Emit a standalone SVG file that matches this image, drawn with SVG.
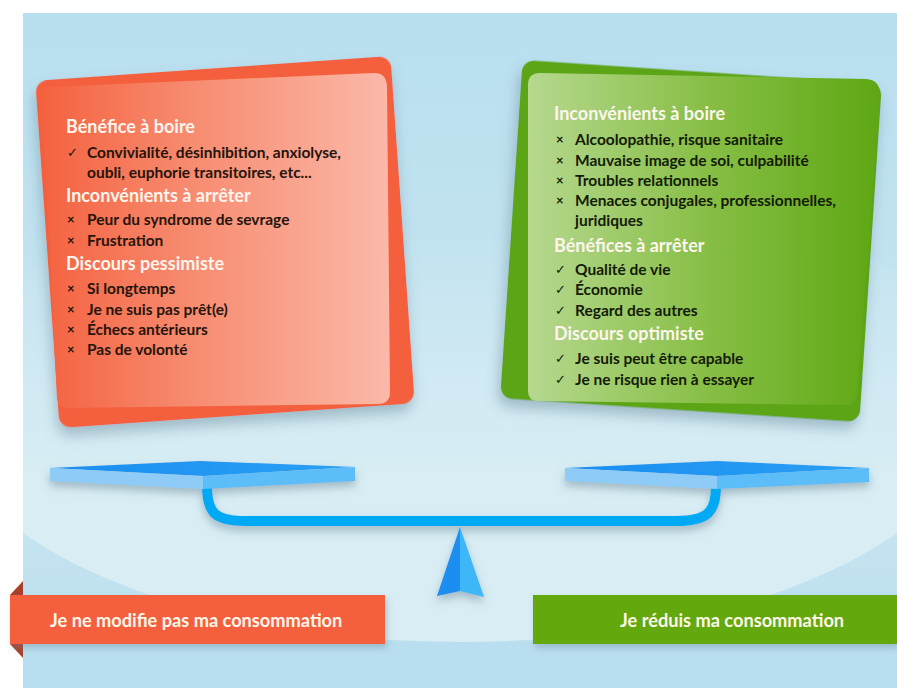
<svg xmlns="http://www.w3.org/2000/svg" width="897" height="698" viewBox="0 0 897 698">
<defs>
<clipPath id="panelClip"><rect x="23" y="13" width="874" height="675"/></clipPath>
<linearGradient id="bgGrad" x1="0" y1="0" x2="0" y2="1">
<stop offset="0" stop-color="#b9dfef"/>
<stop offset="0.7" stop-color="#c9e6f1"/>
<stop offset="1" stop-color="#b8ddee"/>
</linearGradient>
<linearGradient id="ellGrad" x1="0" y1="230" x2="0" y2="480" gradientUnits="userSpaceOnUse">
<stop offset="0" stop-color="#d8edf4" stop-opacity="0"/>
<stop offset="1" stop-color="#d8edf4" stop-opacity="1"/>
</linearGradient>
<linearGradient id="redGrad" x1="40" y1="0" x2="390" y2="0" gradientUnits="userSpaceOnUse">
<stop offset="0" stop-color="#f4623f"/>
<stop offset="0.45" stop-color="#f78d72"/>
<stop offset="1" stop-color="#fbb9a9"/>
</linearGradient>
<linearGradient id="greenGrad" x1="528" y1="0" x2="880" y2="0" gradientUnits="userSpaceOnUse">
<stop offset="0" stop-color="#b6d88f"/>
<stop offset="0.5" stop-color="#88bf47"/>
<stop offset="1" stop-color="#5ea713"/>
</linearGradient>
<linearGradient id="plateTop" x1="0" y1="0" x2="1" y2="0">
<stop offset="0" stop-color="#1a8ef0"/>
<stop offset="1" stop-color="#2aa0f4"/>
</linearGradient>
<filter id="cardShadow" x="-10%" y="-10%" width="120%" height="130%">
<feDropShadow dx="-2" dy="8" stdDeviation="7" flood-color="#5d7f90" flood-opacity="0.45"/>
</filter>
<filter id="softShadow" x="-10%" y="-50%" width="120%" height="250%">
<feDropShadow dx="0" dy="5" stdDeviation="4" flood-color="#6a8796" flood-opacity="0.5"/>
</filter>
<filter id="bannerShadow" x="-5%" y="-20%" width="110%" height="160%">
<feDropShadow dx="2" dy="4" stdDeviation="3" flood-color="#6a8796" flood-opacity="0.4"/>
</filter>
</defs>
<style>
.h{font-family:Lato,"Liberation Sans",sans-serif;font-weight:bold;font-size:18px;fill:#fff5ee}
.t{font-family:Lato,"Liberation Sans",sans-serif;font-weight:bold;font-size:15.5px}
.tl{fill:#26140c}
.tr{fill:#141a08}
.ck{font-family:"DejaVu Sans",sans-serif;font-size:13px}
.x{font-family:Lato,"Liberation Sans",sans-serif;font-weight:bold;font-size:13px}
.bn{font-family:Lato,"Liberation Sans",sans-serif;font-weight:bold;font-size:18.2px;fill:#fff6ea}
</style>
<rect x="0" y="0" width="897" height="698" fill="#ffffff"/>
<g id="background" clip-path="url(#panelClip)">
<rect x="23" y="13" width="874" height="675" fill="url(#bgGrad)"/>
<ellipse cx="460" cy="404" rx="520" ry="238" fill="url(#ellGrad)"/>
<rect x="23" y="642" width="874" height="46" fill="#b9deef"/>
</g>
<g id="card-left">
<rect x="47" y="68" width="356" height="348" rx="12" fill="#f4613d" transform="rotate(-4 225 242)" filter="url(#cardShadow)"/>
<path d="M42,96 Q41,88 50,87 L373,73 Q386,72 387,86 L390,392 Q390,404 378,404 L68,408 Q58,408 57,398 Z" fill="url(#redGrad)"/>
<text class="h" x="66" y="133">Bénéfice à boire</text>
<text class="ck tl" x="67" y="157">✓</text>
<text class="t tl" x="87" y="158">Convivialité, désinhibition, anxiolyse,</text>
<text class="t tl" x="87" y="178">oubli, euphorie transitoires, etc...</text>
<text class="h" x="66" y="202">Inconvénients à arrêter</text>
<text class="x tl" x="67" y="224">×</text>
<text class="t tl" x="87" y="225">Peur du syndrome de sevrage</text>
<text class="x tl" x="67" y="245">×</text>
<text class="t tl" x="87" y="246">Frustration</text>
<text class="h" x="66" y="270">Discours pessimiste</text>
<text class="x tl" x="67" y="293">×</text>
<text class="t tl" x="87" y="294">Si longtemps</text>
<text class="x tl" x="67" y="314">×</text>
<text class="t tl" x="87" y="315">Je ne suis pas prêt(e)</text>
<text class="x tl" x="67" y="334">×</text>
<text class="t tl" x="87" y="335">Échecs antérieurs</text>
<text class="x tl" x="67" y="354">×</text>
<text class="t tl" x="87" y="355">Pas de volonté</text>
</g>
<g id="card-right">
<rect x="511" y="71.5" width="360" height="339" rx="12" fill="#5ca512" transform="rotate(3.8 691 241)" filter="url(#cardShadow)"/>
<path d="M528,85 Q528,73 540,73 L866,79 Q880,80 880,94 L857,394 Q856,405 845,405 L538,401 Q528,401 528,391 Z" fill="url(#greenGrad)"/>
<text class="h" x="554" y="120">Inconvénients à boire</text>
<text class="x tr" x="556" y="144">×</text>
<text class="t tr" x="575" y="145">Alcoolopathie, risque sanitaire</text>
<text class="x tr" x="556" y="165">×</text>
<text class="t tr" x="575" y="166">Mauvaise image de soi, culpabilité</text>
<text class="x tr" x="556" y="185">×</text>
<text class="t tr" x="575" y="186">Troubles relationnels</text>
<text class="x tr" x="556" y="205">×</text>
<text class="t tr" x="575" y="206">Menaces conjugales, professionnelles,</text>
<text class="t tr" x="575" y="226">juridiques</text>
<text class="h" x="554" y="252">Bénéfices à arrêter</text>
<text class="ck tr" x="555" y="274">✓</text>
<text class="t tr" x="575" y="275">Qualité de vie</text>
<text class="ck tr" x="555" y="294">✓</text>
<text class="t tr" x="575" y="295">Économie</text>
<text class="ck tr" x="555" y="315">✓</text>
<text class="t tr" x="575" y="316">Regard des autres</text>
<text class="h" x="554" y="340">Discours optimiste</text>
<text class="ck tr" x="555" y="363">✓</text>
<text class="t tr" x="575" y="364">Je suis peut être capable</text>
<text class="ck tr" x="555" y="384">✓</text>
<text class="t tr" x="575" y="385">Je ne risque rien à essayer</text>
</g>
<g id="scale" filter="url(#softShadow)">
<g id="connectors">
<path d="M207,486 C207,514 216,521 246,521 L676,521 C708,521 716,512 716,486" fill="none" stroke="#00a9f4" stroke-width="10"/>
</g>
<g id="plate-left">
<polygon points="50,468 200,461 355,467 203,476" fill="url(#plateTop)"/>
<polygon points="50,468 203,476 203,489 50,481" fill="#8ecbf6"/>
<polygon points="203,476 355,467 355,481 203,489" fill="#5dbdf8"/>
</g>
<g id="plate-right">
<polygon points="565,468 717,461 869,468 717,476" fill="url(#plateTop)"/>
<polygon points="565,468 717,476 717,489 565,481" fill="#8ecbf6"/>
<polygon points="717,476 869,468 869,482 717,489" fill="#5dbdf8"/>
</g>
<g id="fulcrum">
<polygon points="460,527 437,596 460,591" fill="#1a8ef0"/>
<polygon points="460,527 460,591 484,597" fill="#3db7f7"/>
</g>
</g>
<g id="banner-left">
<polygon points="10,595 23,581 23,595" fill="#a8402a"/>
<polygon points="10,644 23,658 23,644" fill="#a8402a"/>
<rect x="10" y="595" width="375" height="49" fill="#f4603c" filter="url(#bannerShadow)"/>
<text class="bn" x="50" y="627">Je ne modifie pas ma consommation</text>
</g>
<g id="banner-right">
<rect x="533" y="595" width="364" height="49" fill="#63a90f" filter="url(#bannerShadow)"/>
<text class="bn" x="620" y="627">Je réduis ma consommation</text>
</g>
</svg>
